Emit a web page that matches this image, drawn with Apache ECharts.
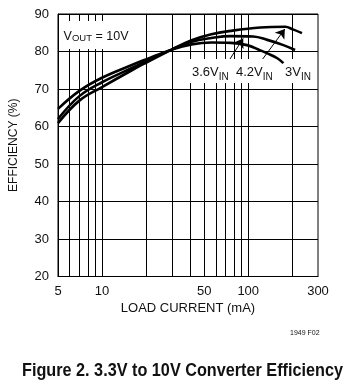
<!DOCTYPE html>
<html>
<head>
<meta charset="utf-8">
<script src="https://cdn.jsdelivr.net/npm/echarts@6/dist/echarts.min.js"></script>
<style>
html,body{margin:0;padding:0;background:#fff;}
#c{width:348px;height:388px;}
</style>
</head>
<body>
<div id="c"></div>
<script>
// ---- data ----
const current3V  = [5, 7, 10, 16, 20, 30, 41, 56, 76, 98, 121, 135, 158, 174];
const eff3V      = [64.7, 69.5, 73.0, 76.4, 77.9, 80.5, 81.9, 82.4, 82.3, 81.7, 80.3, 79.5, 78.2, 76.9];
const current36V = [5, 7, 10, 16, 20, 30, 41, 56, 76, 108, 135, 174, 209];
const eff36V     = [62.0, 68.1, 71.8, 75.6, 77.4, 80.5, 82.6, 83.6, 84.1, 84.0, 83.1, 81.7, 80.4];
const current42V = [5, 7, 10, 16, 20, 30, 41, 56, 76, 121, 179, 202, 233];
const eff42V     = [60.9, 66.9, 70.5, 75.0, 77.0, 80.5, 83.0, 84.6, 85.5, 86.4, 86.6, 85.9, 84.9];
const xGridValues  = [6, 7, 8, 9, 10, 20, 30, 40, 50, 60, 70, 80, 90, 100, 200];
const xTickLabels  = [5, 10, 50, 100, 300];
const yTickLabels  = [20, 30, 40, 50, 60, 70, 80, 90];

const FONT = "'Liberation Sans', Arial, sans-serif";
const pairs = (xs, ys) => xs.map((x, i) => [x, ys[i]]);

// horizontal squeeze so the title reads as a condensed face
const TITLE = 'Figure 2. 3.3V to 10V Converter Efficiency';
const TITLE_FONT = "bold 18px 'Liberation Sans'";
const mctx = document.createElement('canvas').getContext('2d');
mctx.font = TITLE_FONT;
const titleScale = 321 / mctx.measureText(TITLE).width;

const chart = echarts.init(document.getElementById('c'), null, {renderer: 'canvas'});

const curveStyle = {color: '#000', width: 2.6};
const subRich = {
  v: {fontFamily: FONT, fontSize: 13, color: '#111', lineHeight: 16, verticalAlign: 'bottom'},
  s: {fontFamily: FONT, fontSize: 10, color: '#111', lineHeight: 16, verticalAlign: 'bottom', padding: [0, 0, -3, 0]},
  o: {fontFamily: FONT, fontSize: 10, color: '#111', lineHeight: 16, verticalAlign: 'bottom'},
  w: {fontFamily: FONT, fontSize: 12.5, color: '#111', lineHeight: 16, verticalAlign: 'bottom'},
  x: {fontFamily: FONT, fontSize: 9.5, color: '#111', lineHeight: 16, verticalAlign: 'bottom'}
};

chart.setOption({
  animation: false,
  backgroundColor: '#fff',
  title: [{
    text: '1949 F02',
    left: 285, top: 325,
    textStyle: {fontFamily: FONT, fontWeight: 'normal', fontSize: 7, color: '#111'}
  }],
  graphic: [{
    type: 'text', x: 182.5, y: 371, scaleX: titleScale, silent: true,
    style: {text: TITLE, font: TITLE_FONT, fill: '#111', align: 'center', verticalAlign: 'middle'}
  }],
  grid: {left: 55, right: 30, top: 14, bottom: 111.5, show: true, borderColor: '#000', borderWidth: 1, backgroundColor: 'transparent'},
  xAxis: {
    type: 'log', min: 5, max: 300, logBase: 10,
    name: 'LOAD CURRENT (mA)', nameLocation: 'middle', nameGap: 25,
    nameTextStyle: {fontFamily: FONT, fontSize: 13, color: '#111'},
    axisLine: {show: true, lineStyle: {color: '#000', width: 1}},
    axisTick: {show: false},
    axisLabel: {customValues: xTickLabels, fontFamily: FONT, fontSize: 13, color: '#111', margin: 8},
    splitLine: {show: false},
    minorSplitLine: {show: false}
  },
  yAxis: {
    type: 'value', min: 20, max: 90, interval: 10,
    name: 'EFFICIENCY (%)', nameLocation: 'middle', nameGap: 38, nameRotate: 90,
    nameTextStyle: {fontFamily: FONT, fontSize: 12, color: '#111'},
    axisLine: {show: true, lineStyle: {color: '#000', width: 1}},
    axisTick: {show: false},
    axisLabel: {fontFamily: FONT, fontSize: 13, color: '#111', margin: 9},
    splitLine: {show: true, lineStyle: {color: '#000', width: 1}}
  },
  series: [
    {
      name: 'xgrid', type: 'scatter', data: [], z: 1, silent: true,
      markLine: {
        symbol: ['none', 'none'], label: {show: false},
        lineStyle: {color: '#000', width: 1, type: 'solid'},
        emphasis: {disabled: true},
        data: xGridValues.map(v => ({xAxis: v}))
      }
    },
    {
      name: 'annotations', type: 'scatter', data: [], z: 3, silent: true,
      markPoint: {
        symbol: 'rect', symbolSize: 1, itemStyle: {color: 'rgba(0,0,0,0)'},
        label: {show: true, position: 'inside', backgroundColor: '#fff', padding: [4, 3, 4, 3], rich: subRich},
        data: [
          {coord: [9.1, 84.4], label: {formatter: '{w|V}{x|OUT}{w| = 10V}', padding: [6, 4, 6, 4]}},
          {coord: [55, 74.8], label: {formatter: '{v|3.6V}{s|IN}'}},
          {coord: [110, 74.8], label: {formatter: '{v|4.2V}{s|IN}'}},
          {coord: [219, 74.8], label: {formatter: '{v|3V}{s|IN}'}}
        ]
      }
    },
    {name: '3V', type: 'line', data: pairs(current3V, eff3V), smooth: 0.4, showSymbol: false, lineStyle: curveStyle, z: 5},
    {name: '3.6V', type: 'line', data: pairs(current36V, eff36V), smooth: 0.4, showSymbol: false, lineStyle: curveStyle, z: 5},
    {name: '4.2V', type: 'line', data: pairs(current42V, eff42V), smooth: 0.4, showSymbol: false, lineStyle: curveStyle, z: 5},
    {
      name: 'arrows', type: 'scatter', data: [], z: 6, silent: true,
      markLine: {
        symbol: ['none', 'arrow'], symbolSize: 9,
        lineStyle: {color: '#000', width: 1, type: 'solid'},
        itemStyle: {color: '#000'},
        label: {show: false},
        emphasis: {disabled: true},
        data: [
          [{coord: [72, 76.9]}, {coord: [92.4, 83.5]}],
          [{coord: [114.6, 75.9]}, {coord: [178, 86.0]}]
        ]
      }
    }
  ]
});
</script>
</body>
</html>
